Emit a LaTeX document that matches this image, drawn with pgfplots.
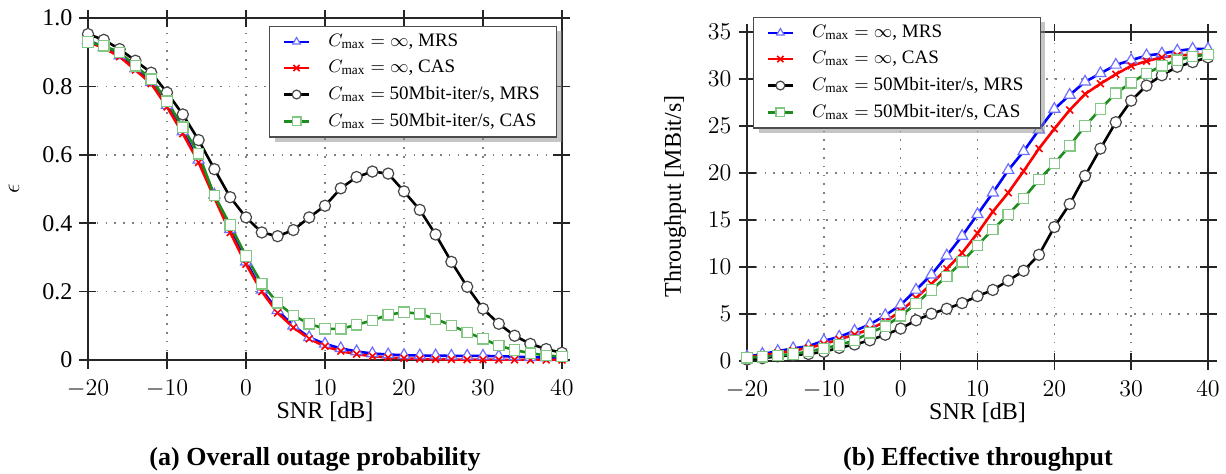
\documentclass[border=0pt]{standalone}
\usepackage{fontspec}
\setmainfont{Liberation Serif}
\usepackage{pgfplots}
\pgfplotsset{compat=1.18}
\usetikzlibrary{shadows}

\makeatletter
\tikzset{no preactions/.code={\let\tikz@preactions\pgfutil@empty}}
\makeatother

\definecolor{triedge}{RGB}{110,110,255}
\definecolor{greenline}{RGB}{30,140,30}
\definecolor{sqedge}{RGB}{130,200,130}
\definecolor{circedge}{RGB}{70,70,70}

\pgfplotsset{
  common/.style={
    scale only axis,
    xmin=-20, xmax=40, xtick={-20,-10,...,40},
    ymin=0,
    xlabel={SNR [dB]},
    grid=major,
    major grid style={gray, line width=0.8pt, dash pattern=on 0.8pt off 3.6pt},
    tick align=center, major tick length=8.5pt,
    axis line style={black!85, line width=0.8pt},
    every tick/.style={black!85, line width=0.8pt},
    tick label style={font=\fontsize{12}{14}\selectfont},
    xticklabel style={yshift=-2pt},
    label style={font=\fontsize{12}{14}\selectfont},
    ylabel style={at={(axis description cs:-0.156,0.5)}, anchor=center},
    legend style={font=\fontsize{9.5}{11}\selectfont, draw=black!70, line width=0.6pt,
      drop shadow={shadow xshift=2.5pt, shadow yshift=-2.5pt, fill=black!45},
      fill=white, row sep=1.3pt, inner xsep=6.5pt, inner ysep=1.8pt,
      nodes={no preactions},
      /tikz/every odd column/.append style={column sep=7pt}},
    legend cell align=left,
    legend image code/.code={%
      \draw[no preactions, mark repeat=2, mark phase=2, mark size=2.2pt]
        plot coordinates {(0pt,0pt) (6.25pt,0pt) (12.5pt,0pt)};},
  },
  mrsinf/.style={blue, line width=1.3pt, mark=triangle*, mark size=3.2pt,
    mark options={draw=triedge, fill=white, line width=0.6pt}},
  casinf/.style={red, line width=1.3pt, mark=x, mark size=2.4pt,
    mark options={red, line width=0.8pt}},
  mrsfifty/.style={black, line width=1.3pt, mark=*, mark size=2.8pt,
    mark options={draw=circedge, fill=white, line width=0.6pt}},
  casfifty/.style={greenline, line width=1.3pt, mark=square*, mark size=2.6pt,
    mark options={draw=sqedge, fill=white, line width=0.6pt}},
}

\begin{document}
\begin{tikzpicture}
\useasboundingbox (0,0) rectangle (613pt,236.5pt);

\begin{axis}[common,
  at={(44pt,56.5pt)}, width=237pt, height=171pt,
  ymax=1, ytick={0,0.2,...,1}, yticklabels={0,0.2,0.4,0.6,0.8,1.0},
  ylabel={$\epsilon$},
  xlabel style={at={(axis description cs:0.5,-0.152)}, anchor=center},
  legend style={at={(0.99,0.977)}, anchor=north east}]
\addplot[mrsinf] coordinates {
(-20,0.935) (-18,0.915) (-16,0.890) (-14,0.852) (-12,0.812) (-10,0.745)
(-8,0.668) (-6,0.585) (-4,0.483) (-2,0.382) (0,0.287) (2,0.205) (4,0.145)
(6,0.100) (8,0.066) (10,0.047) (12,0.034) (14,0.025) (16,0.019) (18,0.016)
(20,0.014) (22,0.013) (24,0.013) (26,0.012) (28,0.012) (30,0.012) (32,0.011)
(34,0.010) (36,0.008) (38,0.007) (40,0.006)};
\addplot[casinf] coordinates {
(-20,0.930) (-18,0.912) (-16,0.887) (-14,0.848) (-12,0.808) (-10,0.740)
(-8,0.662) (-6,0.578) (-4,0.474) (-2,0.373) (0,0.280) (2,0.200) (4,0.138)
(6,0.095) (8,0.062) (10,0.040) (12,0.026) (14,0.017) (16,0.011) (18,0.007)
(20,0.005) (22,0.003) (24,0.002) (26,0.0015) (28,0.001) (30,0.001) (32,0.0005)
(34,0.0005) (36,0) (38,0) (40,0)};
\addplot[mrsfifty] coordinates {
(-20,0.953) (-18,0.936) (-16,0.909) (-14,0.875) (-12,0.840) (-10,0.782)
(-8,0.718) (-6,0.643) (-4,0.558) (-2,0.476) (0,0.417) (2,0.373) (4,0.362)
(6,0.380) (8,0.417) (10,0.451) (12,0.502) (14,0.535) (16,0.551) (18,0.545)
(20,0.493) (22,0.439) (24,0.367) (26,0.287) (28,0.214) (30,0.150) (32,0.106)
(34,0.071) (36,0.047) (38,0.032) (40,0.021)};
\addplot[casfifty] coordinates {
(-20,0.930) (-18,0.919) (-16,0.899) (-14,0.860) (-12,0.821) (-10,0.757)
(-8,0.681) (-6,0.603) (-4,0.481) (-2,0.395) (0,0.304) (2,0.223) (4,0.167)
(6,0.130) (8,0.106) (10,0.091) (12,0.091) (14,0.103) (16,0.116) (18,0.132)
(20,0.140) (22,0.135) (24,0.120) (26,0.101) (28,0.081) (30,0.062) (32,0.042)
(34,0.029) (36,0.020) (38,0.013) (40,0.010)};
\legend{{$C_{\max}=\infty$, MRS},{$C_{\max}=\infty$, CAS},
  {$C_{\max}=$ 50Mbit-iter/s, MRS},{$C_{\max}=$ 50Mbit-iter/s, CAS}}
\end{axis}

\begin{axis}[common,
  at={(373.5pt,56pt)}, width=230.5pt, height=164.5pt,
  ymax=35, ytick={0,5,...,35},
  ylabel={Throughput [MBit/s]},
  xlabel style={at={(axis description cs:0.5,-0.158)}, anchor=center},
  legend style={at={(0.013,1.046)}, anchor=north west}]
\addplot[mrsinf] coordinates {
(-20,0.46) (-18,0.74) (-16,1.05) (-14,1.34) (-12,1.58) (-10,2.15)
(-8,2.57) (-6,3.2) (-4,3.9) (-2,4.85) (0,5.98) (2,7.56) (4,9.18)
(6,11.2) (8,13.3) (10,15.6) (12,17.9) (14,20.3) (16,22.3) (18,24.6)
(20,26.8) (22,28.3) (24,29.7) (26,30.6) (28,31.5) (30,32.0) (32,32.5)
(34,32.7) (36,33.0) (38,33.2) (40,33.2)};
\addplot[casinf] coordinates {
(-20,0.4) (-18,0.6) (-16,0.85) (-14,1.1) (-12,1.4) (-10,1.8)
(-8,2.3) (-6,2.8) (-4,3.4) (-2,4.2) (0,5.3) (2,6.7) (4,8.2)
(6,9.8) (8,11.5) (10,13.6) (12,15.9) (14,17.9) (16,20.2) (18,22.6)
(20,24.7) (22,26.7) (24,28.4) (26,29.5) (28,30.5) (30,31.4) (32,31.9)
(34,32.3) (36,32.5) (38,32.6) (40,32.6)};
\addplot[mrsfifty] coordinates {
(-20,0.15) (-18,0.3) (-16,0.5) (-14,0.63) (-12,0.75) (-10,0.98)
(-8,1.4) (-6,1.76) (-4,2.2) (-2,2.8) (0,3.45) (2,4.33) (4,5.03)
(6,5.56) (8,6.16) (10,6.9) (12,7.56) (14,8.55) (16,9.6) (18,11.3)
(20,14.25) (22,16.7) (24,19.7) (26,22.6) (28,25.4) (30,27.7) (32,29.3)
(34,30.4) (36,31.3) (38,31.8) (40,32.3)};
\addplot[casfifty] coordinates {
(-20,0.35) (-18,0.45) (-16,0.6) (-14,0.75) (-12,1.0) (-10,1.35)
(-8,1.7) (-6,2.2) (-4,3.0) (-2,3.7) (0,4.8) (2,6.1) (4,7.56)
(6,9.0) (8,10.55) (10,12.3) (12,14.0) (14,15.6) (16,17.3) (18,19.3)
(20,21.0) (22,22.9) (24,25.0) (26,26.8) (28,28.5) (30,29.6) (32,30.6)
(34,31.4) (36,32.0) (38,32.4) (40,32.6)};
\legend{{$C_{\max}=\infty$, MRS},{$C_{\max}=\infty$, CAS},
  {$C_{\max}=$ 50Mbit-iter/s, MRS},{$C_{\max}=$ 50Mbit-iter/s, CAS}}
\end{axis}

\node[font=\bfseries\fontsize{13}{15}\selectfont] at (157.5pt,7pt) {(a) Overall outage probability};
\node[font=\bfseries\fontsize{13}{15}\selectfont] at (489pt,7pt) {(b) Effective throughput};
\end{tikzpicture}
\end{document}
